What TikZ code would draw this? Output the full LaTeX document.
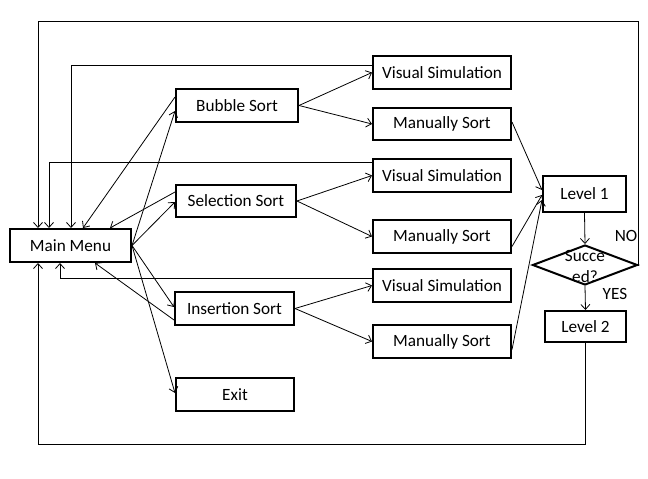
\documentclass[tikz,border=0pt]{standalone}
\usepackage{fontspec}
\setmainfont{Carlito}
\usetikzlibrary{arrows.meta,shapes.geometric}
\begin{document}
\begin{tikzpicture}[x=1pt,y=-1pt,
  box/.style={draw, line width=2pt, rectangle, inner sep=0pt, font=\fontsize{17.2}{20}\selectfont},
  conn/.style={line width=0.8pt, -{Straight Barb[length=5pt,width=9pt]}},
  lbl/.style={font=\fontsize{17.2}{21}\selectfont, inner sep=0pt}]
\useasboundingbox (0,0) rectangle (648,479);
\node[box, minimum width=121pt, minimum height=33pt] (main) at (70.5,245.5) {Main Menu};
\node[box, minimum width=122pt, minimum height=33pt] (bubble) at (237,105.5) {Bubble Sort};
\node[box, minimum width=120pt, minimum height=32pt] (sel) at (236,201) {Selection Sort};
\node[box, minimum width=119pt, minimum height=33pt] (ins) at (234.5,308.5) {Insertion Sort};
\node[box, minimum width=118pt, minimum height=33pt] (exit) at (235,394.5) {Exit};
\node[box, minimum width=138pt, minimum height=33pt] (vs1) at (442,72.5) {Visual Simulation};
\node[box, minimum width=138pt, minimum height=32pt] (ms1) at (442,124) {Manually Sort};
\node[box, minimum width=138pt, minimum height=33pt] (vs2) at (442,175.5) {Visual Simulation};
\node[box, minimum width=138pt, minimum height=33pt] (ms2) at (442,236.5) {Manually Sort};
\node[box, minimum width=138pt, minimum height=33pt] (vs3) at (442,285.5) {Visual Simulation};
\node[box, minimum width=138pt, minimum height=33pt] (ms3) at (442,341.5) {Manually Sort};
\node[box, minimum width=83pt, minimum height=36pt] (l1) at (584.5,194) {Level 1};
\node[draw, diamond, line width=2pt, minimum width=105pt, minimum height=40pt, inner sep=0pt] (dia) at (585,265) {};
\node[lbl, align=center] (dtext) at (585,266) {Succe\\ed?};
\node[box, minimum width=81pt, minimum height=31pt] (l2) at (585.5,326.5) {Level 2};
\node[lbl] (no) at (626,236) {NO};
\node[lbl] (yes) at (615,294) {YES};

\draw[conn] ([yshift=8.5pt]bubble.west) -- ([xshift=12.5pt]main.north);
\draw[conn] (main.east) -- ([yshift=-5.5pt]bubble.west);
\draw[conn] (main.east) -- ([yshift=-1pt]sel.west);
\draw[conn] ([yshift=9pt]sel.west) -- ([xshift=39.5pt]main.north);
\draw[conn] (main.east) -- ([yshift=1.5pt]ins.west);
\draw[conn] ([yshift=-11.5pt]ins.west) -- ([xshift=24.5pt]main.south);
\draw[conn] (main.east) -- ([yshift=1.5pt]exit.west);

\draw[conn] ([yshift=7.5pt]vs1.west) -| ([xshift=0.5pt]main.north);
\draw[conn] ([yshift=13.5pt]vs2.west) -| ([xshift=-21.5pt]main.north);
\draw[conn] ([yshift=7.5pt]vs3.west) -| ([xshift=-10.5pt]main.south);

\draw[conn] (bubble.east) -- (vs1.west);
\draw[conn] (bubble.east) -- (ms1.west);
\draw[conn] (sel.east) -- (vs2.west);
\draw[conn] (sel.east) -- (ms2.west);
\draw[conn] (ins.east) -- (vs3.west);
\draw[conn] (ins.east) -- (ms3.west);

\draw[conn] ([yshift=2pt]ms1.east) -- ([yshift=4pt]l1.west);
\draw[conn] ([yshift=-10pt]ms2.east) -- ([yshift=-1pt]l1.west);
\draw[conn] ([yshift=-8pt]ms3.east) -- ([yshift=-6pt]l1.west);

\draw[conn] (l1.south) -- (dia.north);
\draw[conn] (dia.south) -- (l2.north);
\coordinate (ne) at (638,21);
\draw[conn] (dia.east) -| (ne) -| ([xshift=-32.5pt]main.north);
\coordinate (sw) at (38,444);
\draw[conn] (l2.south) |- (sw) -- ([xshift=-32.5pt]main.south);
\end{tikzpicture}
\end{document}
